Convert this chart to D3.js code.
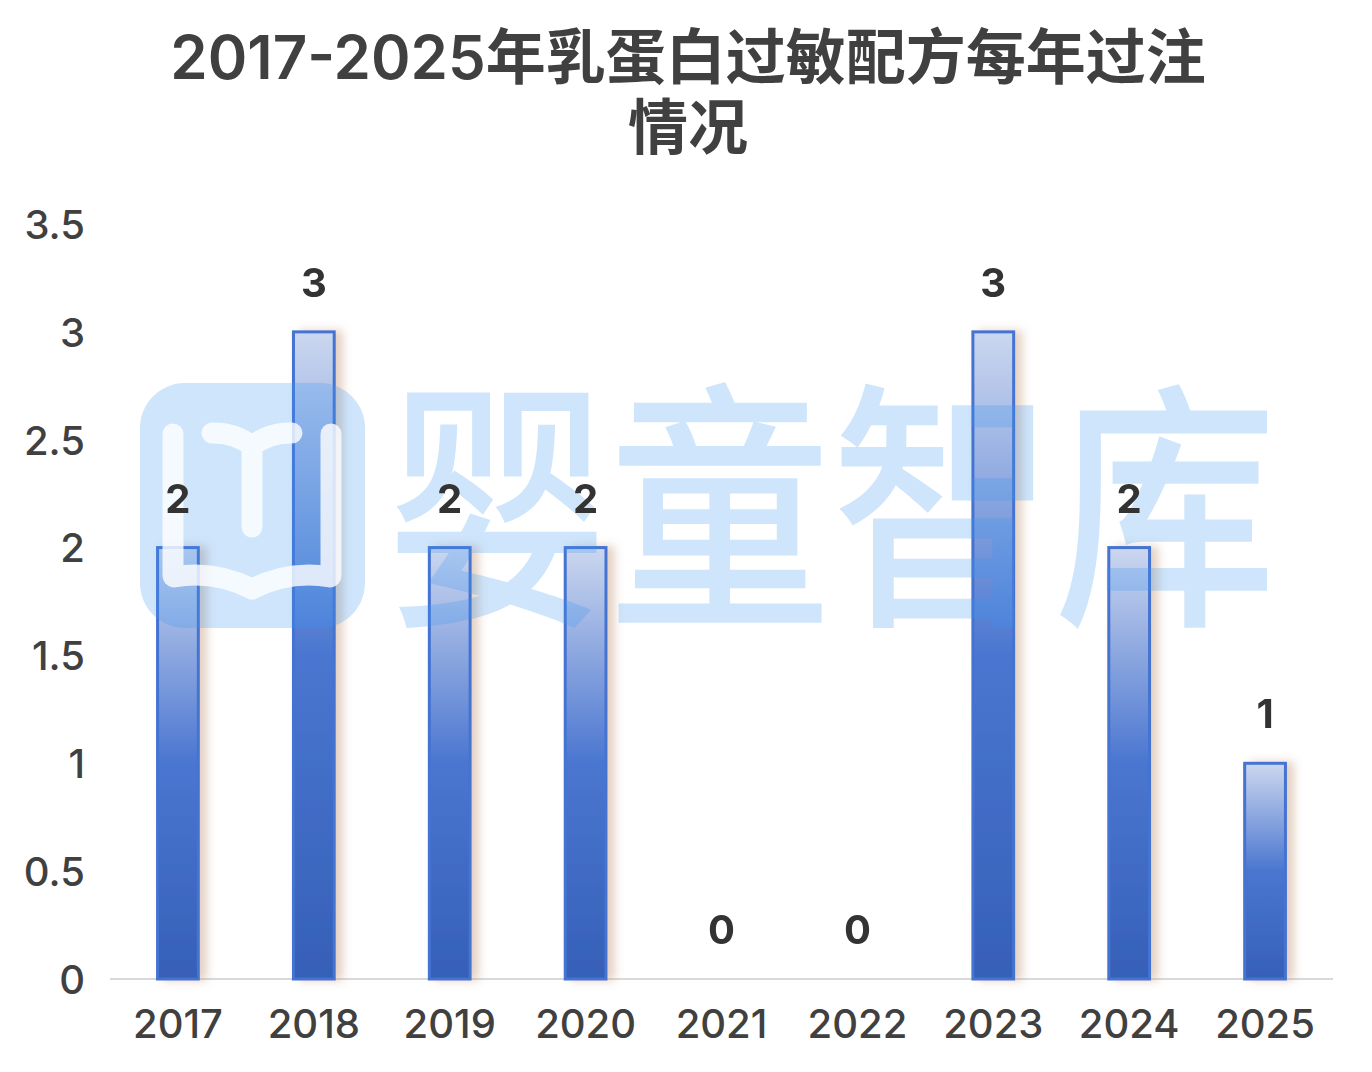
<!DOCTYPE html>
<html><head><meta charset="utf-8">
<script src="https://cdn.jsdelivr.net/npm/d3@7"></script>
<style>
html,body{margin:0;padding:0;background:#fff;}
svg{display:block;}
</style></head>
<body>
<script>
const titleLines = ["2017-2025年乳蛋白过敏配方每年过注", "情况"];
const categories = ["2017","2018","2019","2020","2021","2022","2023","2024","2025"];
const values = [2,3,2,2,0,0,3,2,1];
const yTicks = [0,0.5,1,1.5,2,2.5,3,3.5];
const watermarkText = "婴童智库";

const W = 1372, H = 1072;
const FONT = "Inter,'Noto Sans CJK SC','Noto Sans',sans-serif";
const CJK = "'Noto Sans CJK SC',sans-serif";
const svg = d3.select("body").append("svg").attr("width", W).attr("height", H);
const defs = svg.append("defs");

const grad = defs.append("linearGradient").attr("id","barGrad").attr("x1",0).attr("y1",0).attr("x2",0).attr("y2",1);
grad.append("stop").attr("offset","0%").attr("stop-color","#ccd7ef");
grad.append("stop").attr("offset","50%").attr("stop-color","#4a76d0");
grad.append("stop").attr("offset","100%").attr("stop-color","#3660b8");

const shadow = defs.append("filter").attr("id","shd").attr("x","-50%").attr("y","-20%").attr("width","250%").attr("height","140%");
shadow.append("feGaussianBlur").attr("in","SourceAlpha").attr("stdDeviation",5).attr("result","b");
shadow.append("feOffset").attr("in","b").attr("dx",7).attr("dy",0).attr("result","o");
shadow.append("feFlood").attr("flood-color","#b07850").attr("flood-opacity",0.35);
shadow.append("feComposite").attr("in2","o").attr("operator","in").attr("result","s");
const mg = shadow.append("feMerge");
mg.append("feMergeNode").attr("in","s");
mg.append("feMergeNode").attr("in","SourceGraphic");

const x = d3.scaleBand().domain(categories).range([110,1333]).paddingInner(0.7).paddingOuter(0.35);
const y = d3.scaleLinear().domain([0,3.5]).range([979,224]);

// title
svg.append("g").selectAll("text").data(titleLines).join("text")
  .attr("x", 688).attr("y",(d,i)=>79+i*70)
  .attr("text-anchor","middle").attr("font-family",FONT).attr("font-weight",600)
  .attr("font-size",60).attr("fill","#404040").text(d=>d);

// y axis labels
const yAxis = d3.axisLeft(y).tickValues(yTicks).tickSize(0).tickPadding(0).tickFormat(d=>String(d));
const ya = svg.append("g").attr("transform","translate(85,0)").call(yAxis);
ya.select(".domain").remove();
ya.selectAll("text").attr("font-family",FONT).attr("font-size",40).attr("font-weight",500)
  .attr("fill","#404040").attr("dy","0.36em");

// x axis
const xAxis = d3.axisBottom(x).tickSize(0).tickPadding(0);
const xa = svg.append("g").attr("transform","translate(0,979)").call(xAxis);
xa.select(".domain").attr("stroke","#d9d9d9").attr("stroke-width",2).attr("d","M110,0H1333");
xa.selectAll("text").attr("font-family",FONT).attr("font-size",40).attr("font-weight",500)
  .attr("fill","#404040").attr("y",59).attr("dy",0);

// bars
svg.append("g").selectAll("rect").data(values.map((v,i)=>({c:categories[i],v}))).join("rect")
  .filter(d=>d.v>0)
  .attr("x",d=>x(d.c)).attr("y",d=>y(d.v))
  .attr("width",x.bandwidth()).attr("height",d=>y(0)-y(d.v))
  .attr("fill","url(#barGrad)").attr("stroke","#4573d2").attr("stroke-width",3)
  .attr("filter","url(#shd)");

// watermark
const wm = svg.append("g").attr("opacity",0.25);
wm.append("rect").attr("x",140).attr("y",383).attr("width",225).attr("height",245).attr("rx",45).attr("fill","#3a96f0");
const bk = svg.append("g").attr("opacity",0.8).attr("fill","none").attr("stroke","#fff").attr("stroke-width",21)
  .attr("stroke-linecap","round").attr("stroke-linejoin","round");
bk.append("path").attr("d","M173,434 V576");
bk.append("path").attr("d","M331,434 V576");
bk.append("path").attr("d","M174,577 Q214,570 252,589 Q290,570 330,577");
bk.append("path").attr("d","M212,433 Q234,432 252,446 Q270,432 292,433 M252,446 V527");
wm.append("text").attr("transform","translate(386,606) scale(0.85,1)")
  .attr("font-family",CJK).attr("font-weight",500)
  .attr("font-size",262)
  .attr("fill","#3a96f0").text(watermarkText);

// data labels
svg.append("g").selectAll("text").data(values.map((v,i)=>({c:categories[i],v}))).join("text")
  .attr("x",d=>x(d.c)+x.bandwidth()/2).attr("y",d=>y(d.v)-35)
  .attr("text-anchor","middle").attr("font-family",FONT).attr("font-weight",700)
  .attr("font-size",40).attr("fill","#333").text(d=>d.v);
</script>
</body></html>
